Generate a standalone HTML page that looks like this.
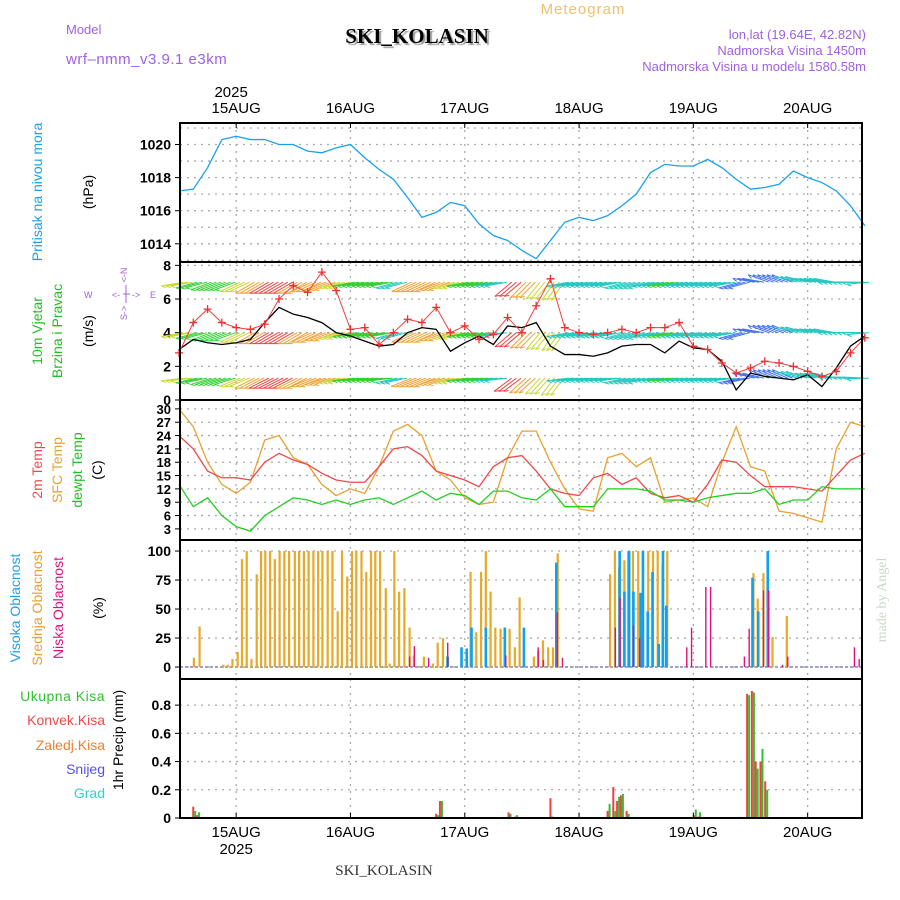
<!DOCTYPE html>
<html><head><meta charset="utf-8"><style>
body{margin:0;background:#fff}
svg{display:block;font-family:"Liberation Sans","DejaVu Sans",sans-serif}
</style></head><body>
<svg id="c" width="900" height="900" viewBox="0 0 900 900">
<g>
<text x="583" y="14" font-size="15" fill="#f0c070" text-anchor="middle" letter-spacing="1">Meteogram</text>
<text x="66" y="34" font-size="13" fill="#a060e0">Model</text>
<text x="66" y="64" font-size="15" fill="#a060e0" letter-spacing="0.5">wrf–nmm_v3.9.1  e3km</text>
<text x="417" y="43" font-size="21" font-weight="bold" font-family="Liberation Serif,serif" fill="#000" text-anchor="middle" style="text-shadow:2px 2px 1px #999">SKI_KOLASIN</text>
<text x="866" y="39" font-size="13" fill="#a060e0" text-anchor="end">lon,lat (19.64E, 42.82N)</text>
<text x="866" y="55" font-size="13" fill="#a060e0" text-anchor="end">Nadmorska Visina 1450m</text>
<text x="866" y="71" font-size="13" fill="#a060e0" text-anchor="end">Nadmorska Visina u modelu 1580.58m</text>
</g>
<g id="plots"></g>
</svg>
<script>
// ---- data (time in hours from 14AUG 12Z) ----
const dayLabels=["15AUG","16AUG","17AUG","18AUG","19AUG","20AUG"];
const pressure=[1017.2,1017.3,1018.6,1020.3,1020.5,1020.3,1020.3,1020.0,1020.0,1019.6,1019.5,1019.8,1020.0,1019.2,1018.5,1017.9,1016.8,1015.6,1015.9,1016.5,1016.3,1015.2,1014.5,1014.2,1013.6,1013.1,1014.2,1015.3,1015.6,1015.4,1015.7,1016.3,1017.0,1018.3,1018.8,1018.7,1018.7,1019.1,1018.6,1017.9,1017.3,1017.4,1017.6,1018.4,1018.0,1017.7,1017.2,1016.3,1015.1];
const windSpeed=[3.0,3.6,3.4,3.3,3.4,3.6,4.6,5.5,5.1,4.9,4.6,4.0,3.8,3.5,3.2,3.3,4.0,4.3,4.2,2.9,3.4,3.8,3.3,4.4,4.3,4.6,3.2,2.7,2.7,2.6,2.8,3.2,3.3,3.3,2.8,3.5,3.1,3.0,2.3,0.6,1.6,1.4,1.3,1.2,1.5,0.8,1.9,3.2,3.8];
const windGust=[2.8,4.6,5.4,4.6,4.3,4.2,4.5,6.0,6.8,6.4,7.6,6.5,4.2,4.3,3.3,4.0,4.8,4.6,5.5,4.0,4.4,3.6,3.9,4.9,4.0,5.6,7.2,4.3,4.0,3.9,4.0,4.2,4.0,4.3,4.3,4.6,3.2,3.0,2.2,1.6,1.9,2.3,2.2,2.0,1.7,1.4,1.7,2.8,3.7];
const windDir=[10,15,20,20,25,30,30,30,30,25,20,15,10,10,10,15,25,25,20,15,10,10,10,40,45,50,55,10,10,10,10,15,15,10,10,10,10,10,10,15,-10,-20,-20,-15,-10,-10,0,0,5];
const windCol=[1,0,0,0,1,2,3,3,2,2,2,1,0,0,0,4,2,2,2,1,0,0,4,3,2,1,1,4,4,4,4,4,4,4,0,4,4,4,4,5,5,5,5,4,4,4,4,4,4];
const tSfc=[30,26,18,13,11,13.5,23,24,19,17.5,13,10.5,12,11,17,25,26.5,24,16,14,10,8.5,9,19,25,25,18,12,7.5,7,19,20,17,19,9,9.5,10,8,18,26,17,16,7,6.5,5.5,4.5,21,27,26];
const t2m=[24,21,16,14.5,14.5,14,18,20,18.5,17.5,15.5,14,13.5,13.5,17,21,21.5,19.5,16,15,14,12.5,17,19,19.5,16,12,11,10.5,14.5,15.5,13,14.5,11,10,10.5,9,13,18.5,18,15,12.5,12.5,12.5,12,11.5,15,18.5,20];
const tDew=[13,8,10,6,3.5,2.5,6,8,10,9.5,8.5,9.5,8.5,9.5,10,8.5,10,11.5,9.5,11,10.5,8.5,11.5,11.5,10,9.5,12,8,8,8,12,12,12,11.5,9.5,9.5,9,10,10.5,11,11,12,8.5,9.5,9.5,12.5,12,12,12];
const midT=[3.1,4.3,9.3,10.2,11.2,12.3,13.2,14.2,15.2,16.3,17.2,18.1,19.1,20.1,21.1,22.1,23.1,24.3,25.2,26.2,27.2,28.2,29.2,30.1,31.2,32.2,33.3,34.2,35.3,36.3,37.2,38.3,39.3,40.3,41.2,42.2,43.4,44.2,45.2,46.2,47.3,48.4,49.3,50.4,51.4,53.3,54.3,55.4,56.3,61.2,62.4,63.4,64.4,65.4,66.4,67.5,68.4,69.4,70.5,71.5,72.5,74.5,75.4,76.4,77.5,78.5,79.5,90.5,91.5,92.4,93.5,94.3,95.3,96.4,97.4,98.5,99.5,100.5,101.5,102.5,120.6,121.5,122.7,123.6,124.6,127.6];
const midV=[8,35,2,2,7,13,93,100,7,80,100,100,100,93,100,100,100,100,100,100,100,100,100,100,100,100,48,100,78,100,100,100,82,100,100,100,68,3,100,65,68,34,10,1,9,3,21,25,9,82,30,82,100,65,34,33,15,33,17,60,1,9,14,23,17,17,98,80,100,86,92,100,100,100,100,100,100,100,88,100,81,59,81,94,26,44];
const highT=[56.4,59.3,60.4,61.4,64.4,68.4,72.4,79.2,92.5,93.5,94.5,95.4,96.9,97.4,98.4,99.4,100.7,101.6,102.3,120.4,121.6,123.6];
const highV=[9,17,16,34,34,34,34,90,100,65,100,65,64,100,48,82,20,100,53,77,48,100];
const lowT=[48.4,49.4,52.4,56.4,68.6,75.4,76.5,79.4,80.5,91.6,92.6,95.4,96.7,106.6,107.6,110.6,111.6,118.7,119.7,122.7,123.8,126.7,127.8,141.8,142.8];
const lowV=[9,18,8,21,10,17,6,47,8,34,60,36,25,17,34,69,69,9,33,66,66,2,9,17,7];
const precipT=[3.2,4,54.2,55,69.4,70.8,78.2,90.2,91.4,92.2,93,94.2,108.3,109.2,119.5,120.5,121.3,122.3,123.3];
const precipTotal=[0.05,0.04,0.02,0.12,0.03,0.02,0.01,0.10,0.05,0.15,0.17,0.03,0.06,0.04,0.87,0.89,0.35,0.49,0.2];
const precipConv=[0.08,0.02,0.03,0.12,0.04,0.01,0.14,0.05,0.22,0.12,0.16,0.05,0.02,0.01,0.88,0.90,0.40,0.40,0.26];
// ---- layout ----
const NS='http://www.w3.org/2000/svg';
const X0=180,X1=862,PXH=114.3/24;
const xT=h=>179+h*PXH;
const root=document.getElementById('plots');
function el(tag,attrs,parent,text){const e=document.createElementNS(NS,tag);for(const k in attrs)e.setAttribute(k,attrs[k]);if(text!==undefined)e.textContent=text;(parent||root).appendChild(e);return e;}
function grp(name){const g=el('g',{});return g;}
const panels=[
 {name:'pressure',top:123,bot:262,min:1012.9,max:1021.3},
 {name:'wind',top:262,bot:400,min:0,max:8.2},
 {name:'temperature',top:400,bot:540,min:0.5,max:32},
 {name:'cloud',top:540,bot:679,min:-10.3,max:109.5},
 {name:'precip',top:679,bot:818,min:0,max:0.985}];
function yS(p,v){return p.bot-(v-p.min)/(p.max-p.min)*(p.bot-p.top);}
function dayX(d){return xT(12+24*d);}
const ticks={pressure:[1014,1016,1018,1020],wind:[0,2,4,6,8],temperature:[3,6,9,12,15,18,21,24,27,30],cloud:[0,25,50,75,100],precip:[0,0.2,0.4,0.6,0.8]};
const gridV={pressure:[1013,1014,1015,1016,1017,1018,1019,1020,1021],wind:[0,2,4,6,8],temperature:[3,6,9,12,15,18,21,24,27,30],cloud:[0,25,50,75,100],precip:[0.2,0.4,0.6,0.8]};
panels.forEach(p=>{
 const g=grp(p.name+'-grid');
 gridV[p.name].forEach(v=>{const y=yS(p,v);el('line',{x1:X0,x2:X1,y1:y,y2:y,stroke:'#aaa','stroke-width':1.3,'stroke-dasharray':'2,5'},g);});
 for(let d=0;d<6;d++){const x=dayX(d);el('line',{x1:x,x2:x,y1:p.top,y2:p.bot,stroke:'#aaa','stroke-width':1.3,'stroke-dasharray':'2,5'},g);}
 const ax=grp(p.name+'-y-axis');
 ticks[p.name].forEach(v=>{const y=yS(p,v);el('line',{x1:X0-5,x2:X0,y1:y,y2:y,stroke:'#000'},ax);
  const t=el('text',{x:X0-9,y:y+5,'font-size':p.name=='temperature'?13:14,'font-weight':'bold','text-anchor':'end'},ax,String(v));});
});
{const p=panels[0];const g=grp('pressure-series');
 el('polyline',{points:pressure.map((v,i)=>xT(i*3)+','+yS(p,v)).join(' '),fill:'none',stroke:'#1aa0f0','stroke-width':1.3},g);}
{const p=panels[1];const gb=grp('wind-barbs');
 const cols=['#30d030','#c8d830','#f0a030','#f04040','#20c8c0','#4070f0'];
 [7,4,1.3].forEach((lev,r)=>{const y0=yS(p,lev);
  for(let i=0;i<windDir.length;i++){for(let s=0;s<3;s++){const h=i*3+s;if(h>144)break;const x=xT(h)+4;
   const a=(windDir[i]+(r==2?-3:0))*Math.PI/180;const L=22;
   const x2=x-L*Math.cos(a),y2=y0+L*Math.sin(a);
   const c=cols[windCol[i]];
   el('line',{x1:x,y1:y0,x2:x2,y2:y2,stroke:c,'stroke-width':1},gb);
   el('line',{x1:x2,y1:y2,x2:x2+5*Math.cos(a-0.5),y2:y2-5*Math.sin(a-0.5),stroke:c,'stroke-width':1},gb);}}
 });
 const gs=grp('wind-speed-line');
 el('polyline',{points:windSpeed.map((v,i)=>xT(i*3)+','+yS(p,v)).join(' '),fill:'none',stroke:'#000','stroke-width':1.3},gs);
 const gg=grp('wind-gust-series');
 el('polyline',{points:windGust.map((v,i)=>xT(i*3)+','+yS(p,v)).join(' '),fill:'none',stroke:'#f04040','stroke-width':1},gg);
 windGust.forEach((v,i)=>{const x=xT(i*3),y=yS(p,v);el('path',{d:`M${x-4},${y}h8M${x},${y-4}v8`,stroke:'#f03030','stroke-width':1.3},gg);});}
{const p=panels[2];
 [[tSfc,'#e8a030','sfc-temp-line'],[t2m,'#f04848','2m-temp-line'],[tDew,'#20d020','dewpoint-line']].forEach(([arr,c,n])=>{const g=grp(n);
  el('polyline',{points:arr.map((v,i)=>xT(i*3)+','+yS(p,v)).join(' '),fill:'none',stroke:c,'stroke-width':1.3},g);});}
{const p=panels[3];const g=grp('cloud-bars');const y0=yS(p,0);
 el('line',{x1:X0,x2:X1,y1:y0,y2:y0,stroke:'#a0a0d0','stroke-width':2,'stroke-dasharray':'3,2'},g);
 midT.forEach((t,i)=>{if(!midV[i])return;const y=yS(p,midV[i]);el('rect',{x:xT(t)-1,y:y,width:2.2,height:y0-y,fill:'#e8a828'},g);});
 highT.forEach((t,i)=>{const y=yS(p,highV[i]);el('rect',{x:xT(t)-1.2,y:y,width:2.6,height:y0-y,fill:'#10a0f0'},g);});
 lowT.forEach((t,i)=>{const y=yS(p,lowV[i]);el('rect',{x:xT(t)-0.6,y:y,width:1.4,height:y0-y,fill:'#e01080'},g);});}
{const p=panels[4];const g=grp('precip-bars');
 precipT.forEach((t,i)=>{const x=xT(t);let y=yS(p,precipConv[i]);el('rect',{x:x-2,y:y,width:2,height:yS(p,0)-y,fill:'#f04040'},g);
  y=yS(p,precipTotal[i]);el('rect',{x:x,y:y,width:2,height:yS(p,0)-y,fill:'#30c030'},g);});
 el('line',{x1:X0,x2:X1,y1:yS(p,0),y2:yS(p,0),stroke:'#000','stroke-width':1.5,'stroke-dasharray':'4,2'},g);}
panels.forEach(p=>{const f=el('rect',{x:X0,y:p.top,width:X1-X0,height:p.bot-p.top,fill:'none',stroke:'#000','stroke-width':2});});
{const gt=grp('top-x-axis');const gbx=grp('bottom-x-axis');
 dayLabels.forEach((l,d)=>{const x=dayX(d);
  el('line',{x1:x,x2:x,y1:123,y2:128,stroke:'#000'},gt);el('line',{x1:x,x2:x,y1:813,y2:818,stroke:'#000'},gbx);
  const a=el('text',{x:x,y:113,'font-size':15,'text-anchor':'middle'},gt,l);
  const b=el('text',{x:x,y:837,'font-size':15,'text-anchor':'middle'},gbx,l);});
 el('text',{x:dayX(0)-5,y:97,'font-size':15,'text-anchor':'middle'},gt,'2025');
 el('text',{x:dayX(0),y:854,'font-size':15,'text-anchor':'middle'},gbx,'2025');}
</script>
<svg width="900" height="900" style="position:absolute;left:0;top:0">
<g font-family="Liberation Sans,sans-serif" font-size="14">
<text transform="translate(42,192) rotate(-90)" text-anchor="middle" fill="#1aa0f0">Pritisak na nivou mora</text>
<text transform="translate(93,192) rotate(-90)" text-anchor="middle" fill="#000">(hPa)</text>
<text transform="translate(42,331) rotate(-90)" text-anchor="middle" fill="#20c020">10m Vjetar</text>
<text transform="translate(62,331) rotate(-90)" text-anchor="middle" fill="#20c020">Brzina i Pravac</text>
<text transform="translate(93,331) rotate(-90)" text-anchor="middle" fill="#000">(m/s)</text>
<g fill="#a060e0" font-size="9">
<text x="84" y="298">W</text><text x="150" y="298">E</text>
<text transform="translate(127,275) rotate(-90)" text-anchor="middle">&lt;-N</text>
<text transform="translate(127,313) rotate(-90)" text-anchor="middle">S-&gt;</text>
<text x="116" y="298" text-anchor="middle">&lt;-</text><text x="136" y="298" text-anchor="middle">-&gt;</text>
<line x1="123" y1="294" x2="130" y2="294" stroke="#a060e0"/><line x1="126" y1="285" x2="126" y2="303" stroke="#a060e0"/>
</g>
<text transform="translate(42,470) rotate(-90)" text-anchor="middle" fill="#f04848">2m Temp</text>
<text transform="translate(62,470) rotate(-90)" text-anchor="middle" fill="#e8a030">SFC Temp</text>
<text transform="translate(82,470) rotate(-90)" text-anchor="middle" fill="#20c020">dewpt Temp</text>
<text transform="translate(102,470) rotate(-90)" text-anchor="middle" fill="#000">(C)</text>
<text transform="translate(20,608) rotate(-90)" text-anchor="middle" fill="#1aa0f0">Visoka Oblacnost</text>
<text transform="translate(42,608) rotate(-90)" text-anchor="middle" fill="#e8a030">Srednja Oblacnost</text>
<text transform="translate(63,608) rotate(-90)" text-anchor="middle" fill="#e01080">Niska Oblacnost</text>
<text transform="translate(103,608) rotate(-90)" text-anchor="middle" fill="#000">(%)</text>
<g text-anchor="end" font-size="14">
<text x="105" y="701" fill="#30c030" letter-spacing="0.5">Ukupna  Kisa</text>
<text x="105" y="725" fill="#f04848">Konvek.Kisa</text>
<text x="105" y="750" fill="#f08030">Zaledj.Kisa</text>
<text x="105" y="774" fill="#5050f0">Snijeg</text>
<text x="105" y="798" fill="#30d0d0">Grad</text>
</g>
<text transform="translate(123,740) rotate(-90)" text-anchor="middle" fill="#000">1hr Precip (mm)</text>
<text transform="translate(886,600) rotate(-90)" text-anchor="middle" fill="#c8d8c8" font-family="Liberation Serif,serif" font-size="14">made by Angel</text>
<text x="384" y="875" text-anchor="middle" font-family="Liberation Serif,serif" font-size="15" fill="#333">SKI_KOLASIN</text>
</g>
</svg>
</body></html>
